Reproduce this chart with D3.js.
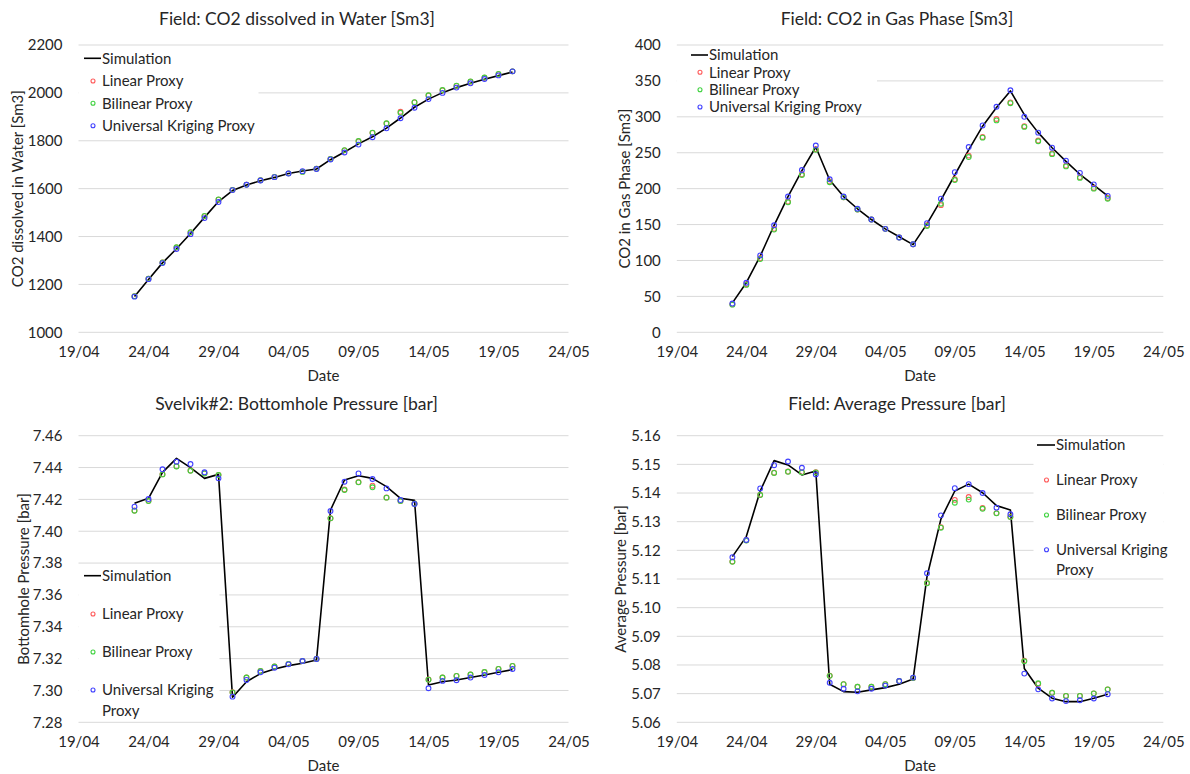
<!DOCTYPE html>
<html>
<head>
<meta charset="utf-8">
<script src="https://cdn.jsdelivr.net/npm/d3@7"></script>
<style>
  body { margin: 0; background: #fff; }
  svg { display: block; font-family: "Lato", "Open Sans", sans-serif; }
</style>
</head>
<body>
<svg id="chart" width="1190" height="774"></svg>
<script>
// Simulation days (2019)
const dates = ["23/04","24/04","25/04","26/04","27/04","28/04","29/04","30/04",
  "01/05","02/05","03/05","04/05","05/05","06/05","07/05","08/05","09/05","10/05",
  "11/05","12/05","13/05","14/05","15/05","16/05","17/05","18/05","19/05","20/05"];
const xTickLabels = ["19/04","24/04","29/04","04/05","09/05","14/05","19/05","24/05"];

const seriesNames = ["Simulation", "Linear Proxy", "Bilinear Proxy", "Universal Kriging Proxy"];

// Field: CO2 dissolved in water [Sm3]
const dissolvedSim = [1150,1221,1290,1349,1413,1480,1546,1592,1615,1633,1647,1663,1674,1682,1721,1753,1787,1817,1853,1895,1940,1974,2001,2022,2040,2057,2072,2087];
const dissolvedLinear = [1151,1224,1292,1354,1417,1485,1554,1595,1617,1635,1649,1664,1671,1683,1724,1760,1798,1833,1872,1921,1960,1989,2011,2029,2047,2063,2078,2090];
const dissolvedBilinear = [1151,1224,1292,1355,1418,1486,1555,1595,1617,1635,1649,1664,1670,1683,1724,1761,1799,1834,1873,1917,1961,1990,2012,2030,2048,2064,2079,2090];
const dissolvedKriging = [1149,1222,1289,1348,1410,1477,1544,1594,1616,1634,1648,1663,1673,1682,1722,1751,1784,1815,1852,1894,1938,1974,2000,2022,2040,2058,2073,2090];
const dissolvedTicks = [1000,1200,1400,1600,1800,2000,2200];

// Field: CO2 in gas phase [Sm3]
const gasSim = [41,69,106,149,189,225,258,212,189,172,157,144,133,122,151,184,219,254,287,313,336,303,278,257,238,220,205,190];
const gasLinear = [39,67,103,144,182,220,255,210,188,171,157,144,132,122.5,149,177,213,246,272,297,320,287,267,249,232,216,201,187];
const gasBilinear = [38.5,66,102,143,181,219,254,209,188,171,157,144,132,122.5,148,179,212,244,271,295,319,286,266,248,231,215,200,186];
const gasKriging = [40,69,107,149,189,226,260,213,189,172,157,144,132,122.5,152,186,223,258,288,314,337,300,278,257,239,222,206,190];
const gasTicks = [0,50,100,150,200,250,300,350,400];

// Svelvik#2: bottomhole pressure [bar]
const bhpSim = [7.4175,7.4207,7.4370,7.4458,7.4400,7.4332,7.4357,7.2957,7.3055,7.3106,7.3135,7.3156,7.3171,7.3191,7.4133,7.4322,7.4349,7.4332,7.4280,7.4207,7.4194,7.3034,7.3055,7.3066,7.3081,7.3097,7.3114,7.3131];
const bhpLinear = [7.4130,7.4191,7.4358,7.4408,7.4381,7.4364,7.4354,7.2989,7.3081,7.3122,7.3150,7.3167,7.3185,7.3198,7.4082,7.4262,7.4309,7.4286,7.4212,7.4190,7.4173,7.3069,7.3081,7.3091,7.3100,7.3116,7.3135,7.3154];
const bhpBilinear = [7.4129,7.4190,7.4357,7.4407,7.4380,7.4363,7.4353,7.2988,7.3081,7.3122,7.3150,7.3167,7.3185,7.3198,7.4081,7.4259,7.4307,7.4276,7.4211,7.4190,7.4173,7.3068,7.3081,7.3091,7.3100,7.3116,7.3135,7.3154];
const bhpKriging = [7.4154,7.4202,7.4389,7.4437,7.4422,7.4370,7.4332,7.2961,7.3066,7.3114,7.3143,7.3164,7.3185,7.3198,7.4127,7.4311,7.4363,7.4328,7.4269,7.4196,7.4171,7.3014,7.3060,7.3064,7.3081,7.3097,7.3114,7.3135];
const bhpTicks = [7.28,7.30,7.32,7.34,7.36,7.38,7.40,7.42,7.44,7.46];

// Field: average pressure [bar]
const avgSim = [5.1178,5.1248,5.1407,5.1513,5.1498,5.1463,5.1477,5.0733,5.0707,5.0705,5.0713,5.0721,5.0733,5.0751,5.1108,5.1309,5.1407,5.1431,5.1401,5.1356,5.1341,5.0788,5.0719,5.0684,5.0672,5.0672,5.0684,5.0698];
const avgLinear = [5.1161,5.1235,5.1394,5.1471,5.1475,5.1473,5.1473,5.0763,5.0733,5.0724,5.0724,5.0733,5.0744,5.0755,5.1086,5.1281,5.1376,5.1386,5.1348,5.1330,5.1317,5.0815,5.0734,5.0703,5.0692,5.0692,5.0701,5.0715];
const avgBilinear = [5.1160,5.1234,5.1393,5.1470,5.1474,5.1472,5.1472,5.0762,5.0733,5.0724,5.0724,5.0733,5.0744,5.0755,5.1085,5.1279,5.1366,5.1377,5.1345,5.1329,5.1316,5.0813,5.0736,5.0703,5.0692,5.0692,5.0701,5.0715];
const avgKriging = [5.1176,5.1236,5.1416,5.1497,5.1510,5.1488,5.1465,5.0738,5.0717,5.0708,5.0717,5.0728,5.0744,5.0756,5.1120,5.1322,5.1417,5.1431,5.1400,5.1349,5.1326,5.0770,5.0715,5.0683,5.0674,5.0677,5.0683,5.0698];
const avgTicks = [5.06,5.07,5.08,5.09,5.10,5.11,5.12,5.13,5.14,5.15,5.16];

const parseDay = s => d3.timeParse("%d/%m/%Y")(s + "/2019");
const proxyColors = ["#ff5a5a", "#3fd23f", "#4040ff"];
const textColor = "#262626";
const gridColor = "#d9d9d9";

const panels = [
  { title: "Field: CO2 dissolved in Water [Sm3]", ytitle: "CO2 dissolved in Water [Sm3]",
    sim: dissolvedSim, proxies: [dissolvedLinear, dissolvedBilinear, dissolvedKriging],
    ticks: dissolvedTicks, fmt: d3.format("d"),
    box: {x0: 0, y0: 0, left: 78.5, right: 568.5, top: 45, bottom: 332.3, titleX: 297, ytitleX: 18},
    legend: {x: 78.5, y: 47, w: 180, h: 90, rows: [58.3, 81, 103.3, 125.7], wrap: false, lineX: 84, textX: 102} },
  { title: "Field: CO2 in Gas Phase [Sm3]", ytitle: "CO2 in Gas Phase [Sm3]",
    sim: gasSim, proxies: [gasLinear, gasBilinear, gasKriging],
    ticks: gasTicks, fmt: d3.format("d"),
    box: {x0: 595, y0: 0, left: 676.8, right: 1163.3, top: 45, bottom: 332.3, titleX: 897, ytitleX: 625},
    legend: {x: 677, y: 47, w: 200, h: 69, rows: [55, 72.3, 89.7, 107], wrap: false, lineX: 691, textX: 709} },
  { title: "Svelvik#2: Bottomhole Pressure [bar]", ytitle: "Bottomhole Pressure [bar]",
    sim: bhpSim, proxies: [bhpLinear, bhpBilinear, bhpKriging],
    ticks: bhpTicks, fmt: d3.format(".2f"),
    box: {x0: 0, y0: 385, left: 78.5, right: 568.5, top: 435.7, bottom: 722.3, titleX: 296.5, ytitleX: 23.5},
    legend: {x: 78.5, y: 565, w: 141, h: 154, rows: [575.7, 614, 652, 690], wrap: true, lineX: 84, textX: 102} },
  { title: "Field: Average Pressure [bar]", ytitle: "Average Pressure [bar]",
    sim: avgSim, proxies: [avgLinear, avgBilinear, avgKriging],
    ticks: avgTicks, fmt: d3.format(".2f"),
    box: {x0: 595, y0: 385, left: 676.8, right: 1163.3, top: 435.7, bottom: 722.3, titleX: 897, ytitleX: 621},
    legend: {x: 1033.5, y: 438, w: 129.8, h: 138, rows: [445, 480, 515, 549.7], wrap: true, lineX: 1037, textX: 1056} }
];

const svg = d3.select("#chart");

panels.forEach(p => {
  const b = p.box;
  const g = svg.append("g");
  const x = d3.scaleTime()
    .domain([parseDay(xTickLabels[0]), parseDay(xTickLabels[xTickLabels.length - 1])])
    .range([b.left, b.right]);
  const y = d3.scaleLinear()
    .domain([p.ticks[0], p.ticks[p.ticks.length - 1]])
    .range([b.bottom, b.top]);

  // horizontal gridlines
  g.append("g").selectAll("line").data(p.ticks).join("line")
    .attr("x1", b.left).attr("x2", b.right)
    .attr("y1", d => y(d)).attr("y2", d => y(d))
    .attr("stroke", gridColor).attr("stroke-width", 1);

  // y axis labels
  const yAxis = d3.axisLeft(y).tickValues(p.ticks).tickFormat(p.fmt).tickSize(0).tickPadding(16);
  const ya = g.append("g").attr("transform", `translate(${b.left},0)`).call(yAxis);
  ya.select(".domain").remove();
  ya.selectAll("text").attr("fill", textColor).style("font-size", "15px").style("font-family", "Lato");

  // x axis labels
  const xAxis = d3.axisBottom(x).tickValues(xTickLabels.map(parseDay))
    .tickFormat(d3.timeFormat("%d/%m")).tickSize(0).tickPadding(14);
  const xa = g.append("g").attr("transform", `translate(0,${b.bottom})`).call(xAxis);
  xa.select(".domain").remove();
  xa.selectAll("text").attr("fill", textColor).style("font-size", "15px").style("font-family", "Lato");

  // titles
  g.append("text").attr("x", b.titleX).attr("y", b.y0 + 25)
    .attr("text-anchor", "middle").attr("fill", textColor)
    .style("font-size", "17.5px").text(p.title);
  g.append("text").attr("x", (b.left + b.right) / 2).attr("y", b.bottom + 49)
    .attr("text-anchor", "middle").attr("fill", textColor)
    .style("font-size", "15px").text("Date");
  g.append("text")
    .attr("transform", `translate(${b.ytitleX},${(b.top + b.bottom) / 2}) rotate(-90)`)
    .attr("text-anchor", "middle").attr("dy", "0.35em").attr("fill", textColor)
    .style("font-size", "15px").text(p.ytitle);

  // simulation line
  const line = d3.line().x((d, i) => x(parseDay(dates[i]))).y(d => y(d));
  g.append("path").datum(p.sim).attr("d", line)
    .attr("fill", "none").attr("stroke", "#000").attr("stroke-width", 1.6)
    .attr("stroke-linejoin", "round");

  // proxy markers
  p.proxies.forEach((vals, k) => {
    g.append("g").selectAll("circle").data(vals).join("circle")
      .attr("cx", (d, i) => x(parseDay(dates[i])))
      .attr("cy", d => y(d))
      .attr("r", 2.4)
      .attr("fill", "none")
      .attr("stroke", proxyColors[k])
      .attr("stroke-width", 1.1);
  });

  // legend
  const L = p.legend;
  const lg = g.append("g");
  lg.append("rect").attr("x", L.x).attr("y", L.y).attr("width", L.w).attr("height", L.h).attr("fill", "#fff");
  seriesNames.forEach((name, k) => {
    const cy = L.rows[k];
    if (k === 0) {
      lg.append("line").attr("x1", L.lineX).attr("x2", L.textX - 1)
        .attr("y1", cy).attr("y2", cy).attr("stroke", "#000").attr("stroke-width", 1.6);
    } else {
      lg.append("circle").attr("cx", (L.lineX + L.textX) / 2).attr("cy", cy).attr("r", 2)
        .attr("fill", "none").attr("stroke", proxyColors[k - 1]).attr("stroke-width", 1.1);
    }
    const t = lg.append("text").attr("x", L.textX).attr("y", cy).attr("dy", "0.35em")
      .attr("fill", textColor).style("font-size", "15px");
    if (L.wrap && name === "Universal Kriging Proxy") {
      t.append("tspan").attr("x", L.textX).text("Universal Kriging");
      t.append("tspan").attr("x", L.textX).attr("dy", "1.35em").text("Proxy");
    } else {
      t.text(name);
    }
  });
});
</script>
</body>
</html>
